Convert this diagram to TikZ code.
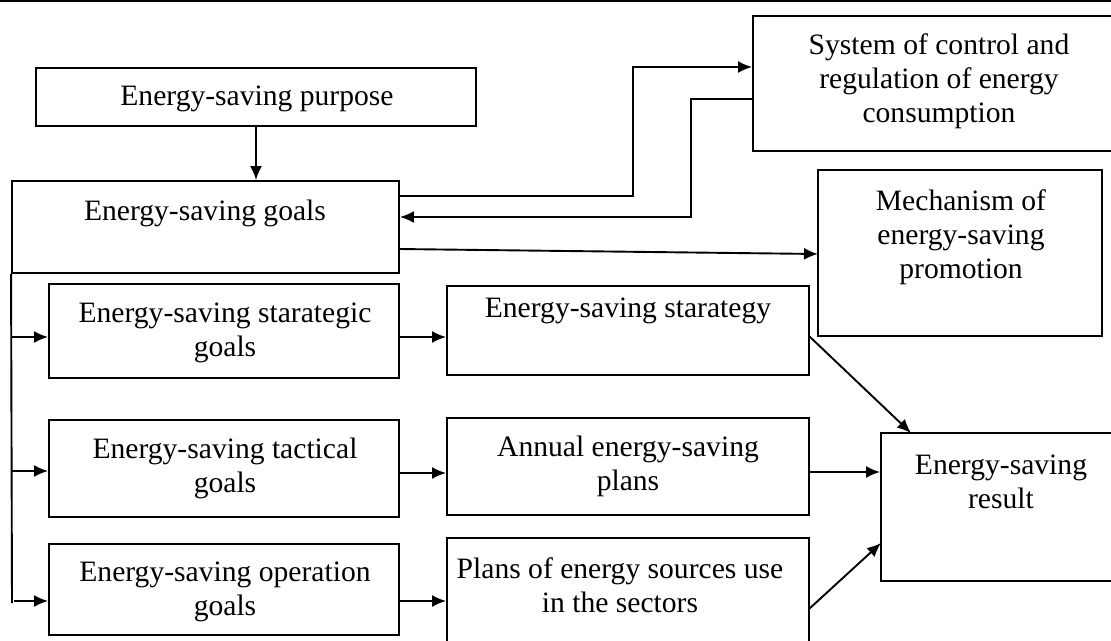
\documentclass[tikz,border=0pt]{standalone}
\usepackage{fontspec}
\setmainfont{Liberation Serif}
\usetikzlibrary{arrows.meta,fit}
\begin{document}
\begin{tikzpicture}[x=1pt,y=-1pt,
  box/.style={draw, line width=1.9pt, inner sep=0pt, rectangle},
  txt/.style={font=\fontsize{29.6}{34}\selectfont, align=center, inner sep=0pt},
  arr/.style={line width=1.9pt, -{Latex[length=14pt,width=12pt]}},
  ln/.style={line width=1.9pt}]
\clip (0,0) rectangle (1111,640);
\useasboundingbox (0,0) rectangle (1111,640);
\fill[white] (0,0) rectangle (1111,640);
% top rule
\coordinate (topl) at (0,0.5);
\coordinate (topr) at (1111,0.5);
\draw[line width=2pt] (topl) -- (topr);

% boxes
\node[box, fit={(36,68) (476,126)}] (purpose) {};
\node[box, fit={(12,181) (399,273)}] (goals) {};
\node[box, fit={(753,16) (1130,151)}] (system) {};
\node[box, fit={(818,170) (1102,336)}] (mech) {};
\node[box, fit={(49,284) (399,378)}] (sg) {};
\node[box, fit={(49,420) (399,517)}] (tg) {};
\node[box, fit={(49,544) (399,635)}] (og) {};
\node[box, fit={(447,286) (809,375)}] (strategy) {};
\node[box, fit={(447,418) (809,515)}] (annual) {};
\node[box, fit={(447,538) (809,670)}] (plans) {};
\node[box, fit={(881,433) (1130,581)}] (result) {};

% texts
\node[txt] (tpurpose) at (257,99) {Energy-saving purpose};
\node[txt] (tgoals) at (205,213) {Energy-saving goals};
\node[txt] (tsystem) at (939,81) {System of control and\\regulation of energy\\consumption};
\node[txt] (tmech) at (961,237) {Mechanism of\\energy-saving\\promotion};
\node[txt] (tsg) at (225,333) {Energy-saving starategic\\goals};
\node[txt] (tstrategy) at (628,311) {Energy-saving starategy};
\node[txt] (ttg) at (225,468) {Energy-saving tactical\\goals};
\node[txt] (tannual) at (628,466) {Annual energy-saving\\plans};
\node[txt] (tog) at (225,592) {Energy-saving operation\\goals};
\node[txt] (tplans) at (620,585) {Plans of energy sources use\\in the sectors};
\node[txt] (tresult) at (1001,482) {Energy-saving\\result};

% purpose -> goals
\draw[arr] (purpose.south) -- (purpose.south |- goals.north);

% goals -> system
\coordinate (k1) at (633,196);
\coordinate (k2) at (633,67);
\draw[arr] (goals.east |- k1) -- (k1) -- (k2) -- (system.west |- k2);
% system -> goals
\coordinate (k3) at (691,99);
\coordinate (k4) at (691,217);
\draw[arr] (system.west |- k3) -- (k3) -- (k4) -- (goals.east |- k4);
% goals -> mechanism
\coordinate (k5) at (399,249);
\coordinate (k6) at (818,254);
\draw[arr] (k5) -- (k6);

% trunk
\coordinate (tr) at (12,603);
\draw[ln] (goals.south west) -- (tr);
\coordinate (b1) at (12,337);
\coordinate (b2) at (12,471);
\coordinate (b3) at (14,601);
\draw[arr] (b1) -- (sg.west |- b1);
\draw[arr] (b2) -- (tg.west |- b2);
\draw[arr] (b3) -- (og.west |- b3);

% goals -> plans
\coordinate (m1) at (399,337);
\coordinate (m2) at (399,473);
\coordinate (m3) at (399,601);
\draw[arr] (m1) -- (strategy.west |- m1);
\draw[arr] (m2) -- (annual.west |- m2);
\draw[arr] (m3) -- (plans.west |- m3);

% plans -> result
\coordinate (r1) at (809,336);
\coordinate (r1e) at (911,433);
\draw[arr] (r1) -- (r1e);
\coordinate (r2) at (809,472);
\draw[arr] (r2) -- (result.west |- r2);
\coordinate (r3) at (809,609);
\coordinate (r3e) at (881,543);
\draw[arr] (r3) -- (r3e);
\end{tikzpicture}
\end{document}
